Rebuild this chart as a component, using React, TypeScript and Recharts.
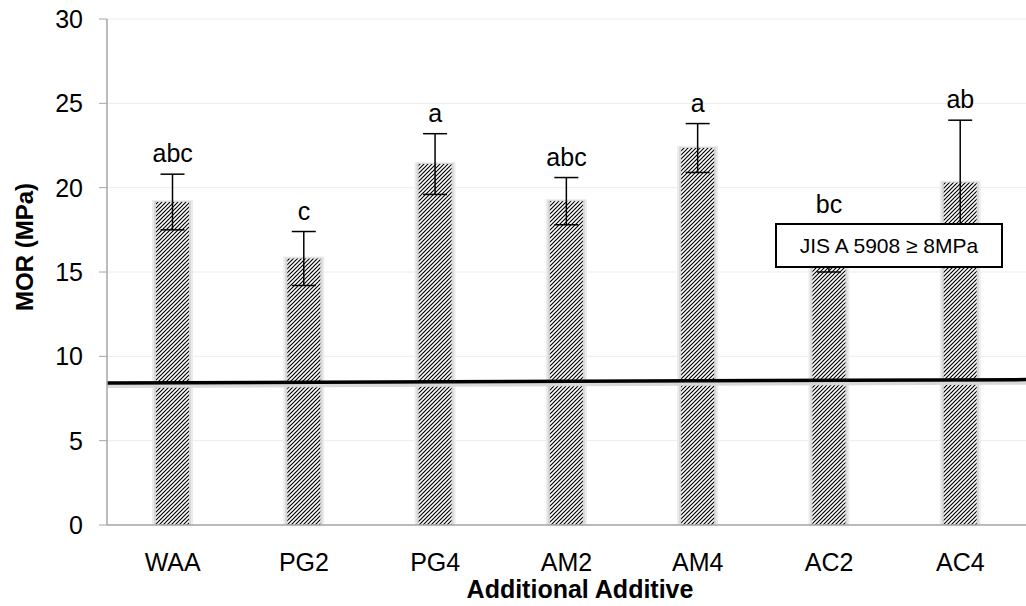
import React from 'react';
import {
  ComposedChart,
  Bar,
  Line,
  XAxis,
  YAxis,
  CartesianGrid,
  ErrorBar,
  LabelList,
  ReferenceLine,
} from 'recharts';

const categories = ['WAA', 'PG2', 'PG4', 'AM2', 'AM4', 'AC2', 'AC4'];
const morMean = [19.15, 15.8, 21.4, 19.2, 22.35, 16.4, 20.3];
const morErr = [1.65, 1.6, 1.8, 1.4, 1.45, 1.4, 3.7];
const letters = ['abc', 'c', 'a', 'abc', 'a', 'bc', 'ab'];
const yTicks = [0, 5, 10, 15, 20, 25, 30];
// JIS threshold line, drawn slightly tilted as in the original
const jisLine = [8.42, 8.62];

const data = categories.map((name, i) => ({
  name,
  mor: morMean[i],
  err: morErr[i],
  upper: morMean[i] + morErr[i],
  letter: letters[i],
}));

const font = '"Liberation Sans", Arial, sans-serif';

function HatchBar(props: any) {
  const { x, y, width, height } = props;
  if (!height || height <= 0) return null;
  return (
    <g>
      <rect x={x - 4} y={y - 2} width={width + 8} height={height + 2} fill="#ececec" />
      <rect x={x - 2} y={y - 1} width={width + 4} height={height + 1} fill="#d6d6d6" />
      <rect x={x} y={y} width={width} height={height} fill="#fff" />
      <rect x={x} y={y} width={width} height={height} fill="url(#hatch)" />
    </g>
  );
}

function YTitle() {
  return (
    <text
      x={24}
      y={247}
      transform="rotate(-90 24 247)"
      textAnchor="middle"
      dominantBaseline="central"
      fontSize={24}
      fontWeight="bold"
      fontFamily={font}
      fill="#000"
    >
      MOR (MPa)
    </text>
  );
}

function XTitle() {
  return (
    <text x={580} y={598} textAnchor="middle" fontSize={25} fontWeight="bold" fontFamily={font} fill="#000">
      Additional Additive
    </text>
  );
}

export default function App() {
  return (
    <div style={{ position: 'absolute', left: 0, top: 0, width: 1026, height: 606, background: '#fff', fontFamily: font }}>
      <ComposedChart
        width={1026}
        height={606}
        data={data}
        margin={{ top: 19, right: 0, left: 0, bottom: 0 }}
      >
        <defs>
          <pattern id="hatch" width="4" height="4" patternUnits="userSpaceOnUse">
            <line x1="0" y1="4" x2="4" y2="0" stroke="#000" strokeWidth="1.15" />
            <line x1="-1" y1="1" x2="1" y2="-1" stroke="#000" strokeWidth="1.15" />
            <line x1="3" y1="5" x2="5" y2="3" stroke="#000" strokeWidth="1.15" />
          </pattern>
        </defs>
        <CartesianGrid vertical={false} stroke="#ececec" />
        <XAxis
          dataKey="name"
          axisLine={{ stroke: '#a6a6a6', strokeWidth: 1.5 }}
          tickLine={false}
          height={81}
          tickMargin={22}
          tick={{ fontSize: 25, fill: '#000', fontFamily: font }}
          label={<XTitle />}
        />
        <XAxis xAxisId="lin" type="number" domain={[0, 6]} hide />
        <YAxis
          domain={[0, 30]}
          ticks={yTicks}
          width={107}
          axisLine={{ stroke: '#a6a6a6', strokeWidth: 1.5 }}
          tickLine={{ stroke: '#a6a6a6' }}
          tickSize={8}
          tickMargin={16}
          tick={{ fontSize: 25, fill: '#000', fontFamily: font }}
          label={<YTitle />}
        />
        <Bar dataKey="mor" barSize={33} shape={<HatchBar />} isAnimationActive={false}>
          <ErrorBar dataKey="err" width={12} stroke="#000" strokeWidth={1.5} />
        </Bar>
        <Line dataKey="upper" stroke="none" dot={false} activeDot={false} isAnimationActive={false}>
          <LabelList dataKey="letter" position="top" offset={12} fontSize={25} fill="#000" fontFamily={font} />
        </Line>
        <ReferenceLine
          xAxisId="lin"
          segment={[{ x: 0, y: jisLine[0] - 0.12 }, { x: 6, y: jisLine[1] - 0.12 }]}
          stroke="#d9d9d9"
          strokeWidth={6}
        />
        <ReferenceLine
          xAxisId="lin"
          segment={[{ x: 0, y: jisLine[0] }, { x: 6, y: jisLine[1] }]}
          stroke="#000"
          strokeWidth={3.5}
        />
      </ComposedChart>
      <div
        style={{
          position: 'absolute',
          left: 775,
          top: 223,
          width: 224,
          height: 41,
          border: '2px solid #000',
          background: '#fff',
          display: 'flex',
          alignItems: 'center',
          justifyContent: 'center',
          fontSize: 21,
          color: '#000',
        }}
      >
        JIS A 5908 ≥ 8MPa
      </div>
    </div>
  );
}
